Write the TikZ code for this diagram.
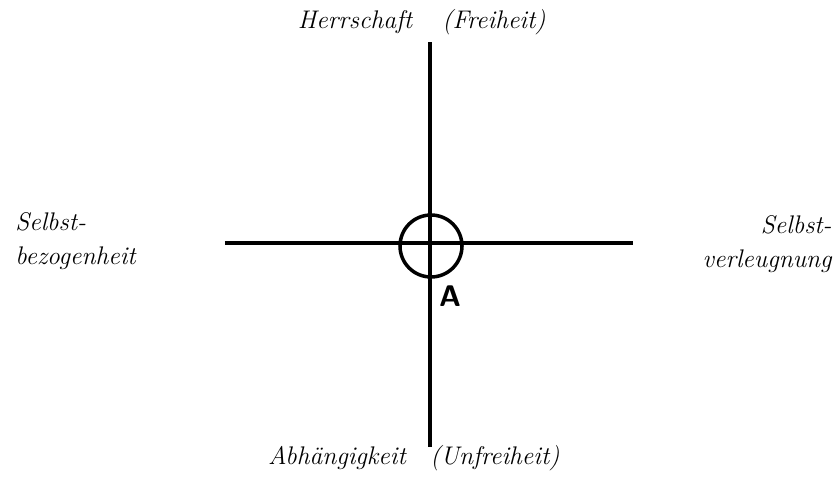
\documentclass[tikz,border=0pt]{standalone}
\usepackage{fontspec}
\usepackage{tikz}
\usetikzlibrary{positioning}

\begin{document}
\begin{tikzpicture}[
  axis/.style={line width=2pt},
  ring/.style={circle, draw, line width=2pt, minimum size=1.24cm, inner sep=0pt},
  pole/.style={font=\fontsize{14.5}{19}\selectfont\itshape, inner sep=0pt},
  marker/.style={font=\fontsize{17}{19}\selectfont\sffamily\bfseries, inner sep=0pt}
]
\useasboundingbox (-8.6,-4.7) rectangle (8.12,4.88);

\coordinate (top) at (0, 4.04);
\coordinate (bottom) at (0, -4.06);
\coordinate (left) at (-4.1, 0.02);
\coordinate (right) at (4.06, 0.02);
\node[ring] (origin) at (0.02, -0.04) {};

\draw[axis] (top) -- (bottom);
\draw[axis] (left) -- (right);

\node[marker] (pointa) at (0.4, -1.04) {A};

\node[pole] (herrschaft) at (-1.5, 4.44) {Herrschaft};
\node[pole] (freiheit) at (1.28, 4.44) {(Freiheit)};
\node[pole] (abhaengig) at (-1.86, -4.28) {Abhängigkeit};
\node[pole] (unfreiheit) at (1.3, -4.28) {(Unfreiheit)};
\node[pole, anchor=west, align=left] (bezogen) at (-8.3, 0.06) {Selbst-\\bezogenheit};
\node[pole, anchor=east, align=right] (verleugnung) at (8.04, 0.0)
  {\addfontfeatures{LetterSpace=12}Selbst-\\\addfontfeatures{LetterSpace=12}verleugnung};

\end{tikzpicture}
\end{document}
